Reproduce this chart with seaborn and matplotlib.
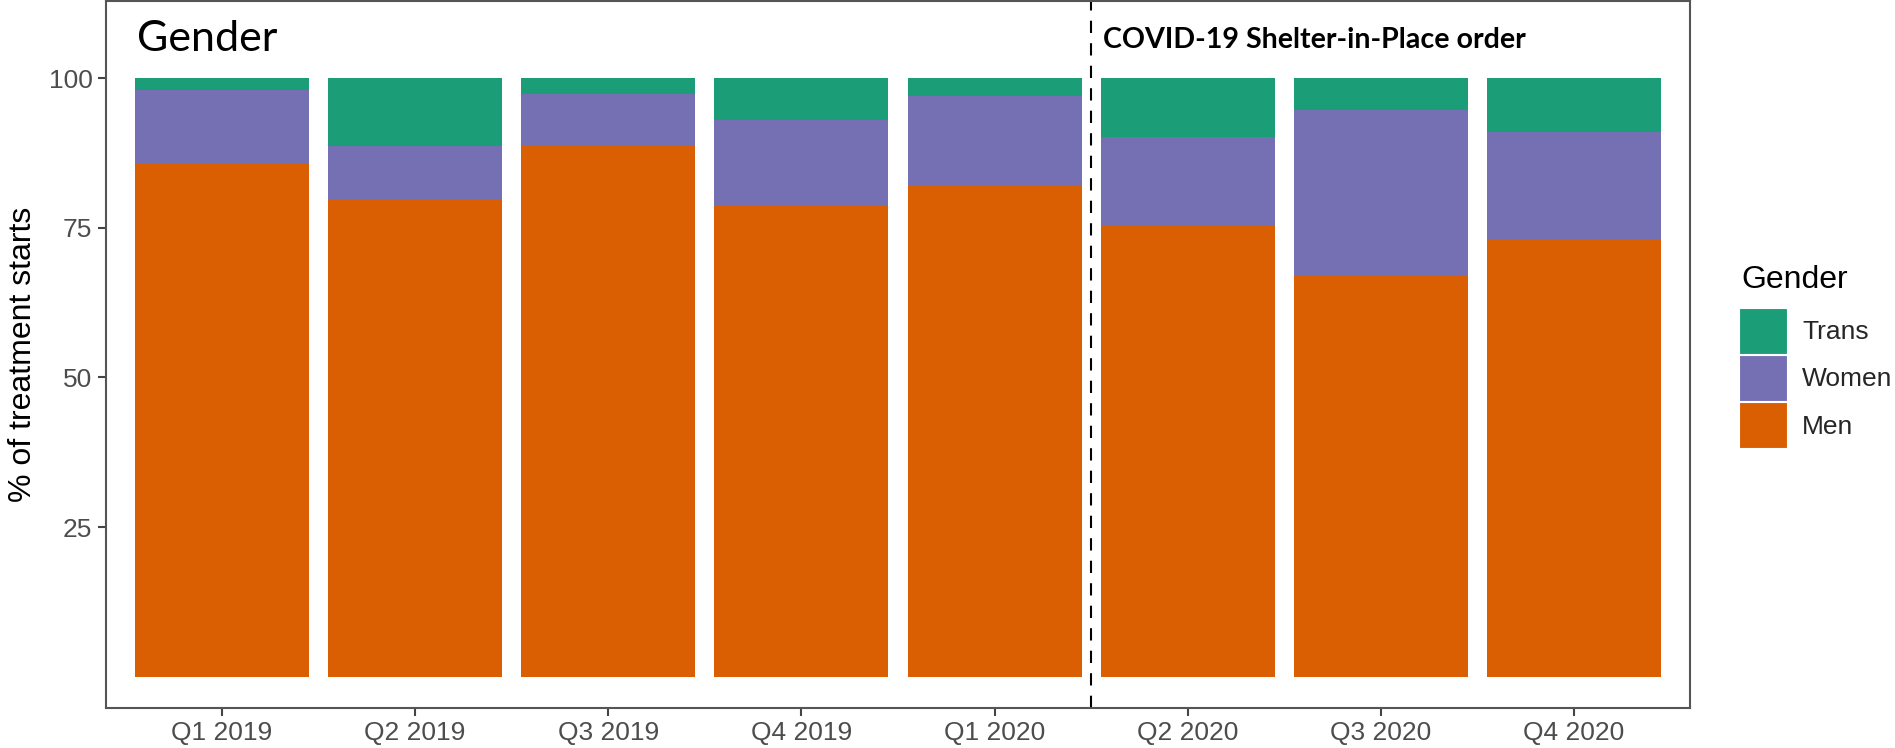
import matplotlib
matplotlib.use("Agg")
import matplotlib.pyplot as plt
import seaborn as sns
import numpy as np
from matplotlib.patches import Patch

# ---- data ----
quarters = ["Q1 2019", "Q2 2019", "Q3 2019", "Q4 2019",
            "Q1 2020", "Q2 2020", "Q3 2020", "Q4 2020"]
men = [85.7, 79.7, 88.7, 78.7, 82.0, 75.4, 67.0, 73.0]
women = [12.3, 9.0, 8.6, 14.3, 15.0, 14.7, 27.7, 18.0]
trans = [2.0, 11.3, 2.7, 7.0, 3.0, 9.9, 5.3, 9.0]
genders = ["Trans", "Women", "Men"]
colors = {"Trans": "#1B9E77", "Women": "#7570B3", "Men": "#D95F02"}
yticks = [25, 50, 75, 100]

sns.set_style("white")
plt.rcParams["font.family"] = ["Liberation Sans", "DejaVu Sans"]

W, H = 1895, 748
fig = plt.figure(figsize=(W / 100, H / 100), dpi=100)
ax = fig.add_axes([106 / W, 1 - 707.7 / H, (1690 - 106) / W, (707.7 - 1) / H])

men_a = np.array(men)
women_top = men_a + np.array(women)
trans_top = women_top + np.array(trans)

for vals, g in [(trans_top, "Trans"), (women_top, "Women"), (men_a, "Men")]:
    sns.barplot(x=quarters, y=vals, order=quarters, color=colors[g],
                saturation=1, width=0.9, linewidth=0, errorbar=None, ax=ax)

ax.set_xlim(-0.6, 7.6)
ax.set_ylim(-5.18, 112.9)
ax.set_yticks(yticks)
ax.set_yticklabels([str(t) for t in yticks])

ax.axvline(4.5, color="black", lw=1.5, linestyle=(0, (5.9, 4.9)))

for s in ax.spines.values():
    s.set_visible(True)
    s.set_color("#555555")
    s.set_linewidth(1.5)

ax.tick_params(axis="both", length=5.8, width=1.5, color="#444444",
               labelcolor="#4D4D4D", labelsize=19, pad=4, bottom=True, left=True)
ax.set_xlabel("")
ax.set_ylabel("% of treatment starts", fontsize=23, color="black")
ax.yaxis.set_label_coords((23 - 106) / 1584, 0.5)
ax.yaxis.label.set_va("center")

fig.text(137 / W, 1 - 50.7 / H, "Gender", fontsize=31, family="Lato",
         va="baseline", ha="left", color="black")
fig.text(1103 / W, 1 - 48 / H, "COVID-19 Shelter-in-Place order", fontsize=20.6,
         family="Lato", fontweight="bold", va="baseline", ha="left", color="black")

# legend
fig.text(1741 / W, 1 - 288 / H, "Gender", fontsize=23, va="baseline", ha="left",
         color="black")
handles = [Patch(facecolor=colors[g], edgecolor="white", linewidth=0.8) for g in genders]
leg = fig.legend(handles, genders, loc="upper left",
                 bbox_to_anchor=(1739 / W, 1 - 308 / H), frameon=False,
                 fontsize=19, handlelength=1.8, handleheight=2.3,
                 labelspacing=0.05, handletextpad=0.6, borderpad=0, borderaxespad=0)

fig.savefig("out.png", dpi=100, facecolor="white")
